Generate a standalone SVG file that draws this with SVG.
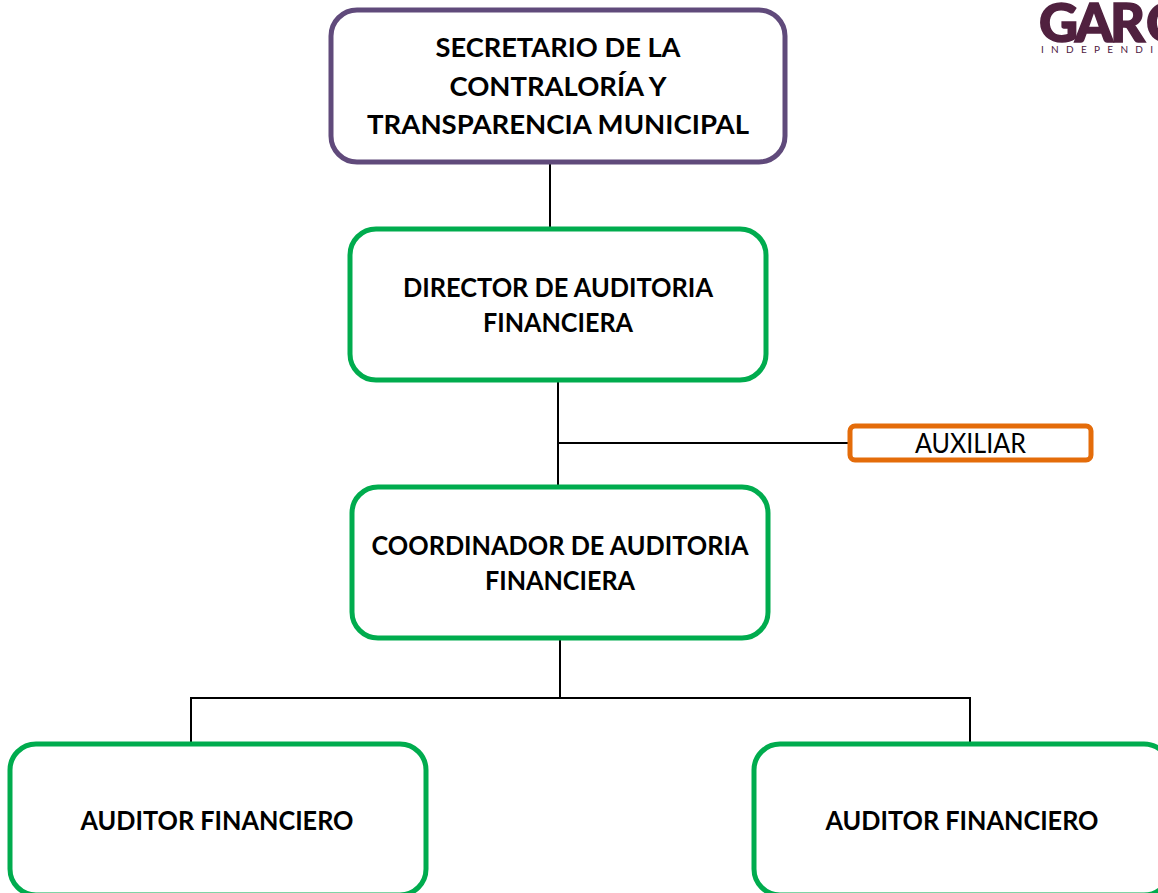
<svg xmlns="http://www.w3.org/2000/svg" width="1158" height="893" viewBox="0 0 1158 893">
<style>
.n{fill:#fff;stroke-width:5}
.g{stroke:#00ac4e}
.t{font-family:Lato,"Open Sans","Liberation Sans",sans-serif;font-size:27px;font-weight:700;fill:#000;text-anchor:middle}
.c{fill:none;stroke:#000;stroke-width:2}
</style>
<rect width="1158" height="893" fill="#fff"/>
<g id="connectors">
<path class="c" d="M550 163V229"/>
<path class="c" d="M558 381V487"/>
<path class="c" d="M558 443H850"/>
<path class="c" d="M560 638V698"/>
<path class="c" d="M191 744V698H970V744"/>
</g>
<g id="node-secretario">
<rect class="n" x="331" y="10" width="454" height="152" rx="26" stroke="#604a7b"/>
<text class="t" x="558" y="57" textLength="245" lengthAdjust="spacingAndGlyphs">SECRETARIO DE LA</text>
<text class="t" x="558" y="96" textLength="217" lengthAdjust="spacingAndGlyphs">CONTRALORÍA Y</text>
<text class="t" x="558" y="134" textLength="382" lengthAdjust="spacingAndGlyphs">TRANSPARENCIA MUNICIPAL</text>
</g>
<g id="node-director">
<rect class="n g" x="350" y="229" width="416" height="151" rx="26"/>
<text class="t" x="558" y="297" textLength="310" lengthAdjust="spacingAndGlyphs">DIRECTOR DE AUDITORIA</text>
<text class="t" x="558" y="332" textLength="150" lengthAdjust="spacingAndGlyphs">FINANCIERA</text>
</g>
<g id="node-auxiliar">
<rect class="n" x="850" y="426" width="241" height="34" rx="5" stroke="#e46c0a"/>
<text x="970.500" y="453" text-anchor="middle" font-family="Lato,'Open Sans','Liberation Sans',sans-serif" font-size="27" textLength="111" lengthAdjust="spacingAndGlyphs">AUXILIAR</text>
</g>
<g id="node-coordinador">
<rect class="n g" x="352" y="487" width="416" height="151" rx="26"/>
<text class="t" x="560" y="555" textLength="377" lengthAdjust="spacingAndGlyphs">COORDINADOR DE AUDITORIA</text>
<text class="t" x="560" y="590" textLength="150" lengthAdjust="spacingAndGlyphs">FINANCIERA</text>
</g>
<g id="node-auditor-1">
<rect class="n g" x="10" y="744" width="416" height="151" rx="26"/>
<text class="t" x="217" y="830" textLength="273" lengthAdjust="spacingAndGlyphs">AUDITOR FINANCIERO</text>
</g>
<g id="node-auditor-2">
<rect class="n g" x="754" y="744" width="416" height="151" rx="26"/>
<text class="t" x="962" y="830" textLength="273" lengthAdjust="spacingAndGlyphs">AUDITOR FINANCIERO</text>
</g>
<g id="logo" fill="#50213f" font-family="Lato,'Liberation Sans',sans-serif">
<text x="1039 1075 1110 1146" y="42" font-size="54" font-weight="900" stroke="#50213f" stroke-width="1.500">GARC</text>
<text x="1041" y="53" font-size="10" font-weight="400" letter-spacing="7.300">INDEPENDI</text>
</g>
</svg>
